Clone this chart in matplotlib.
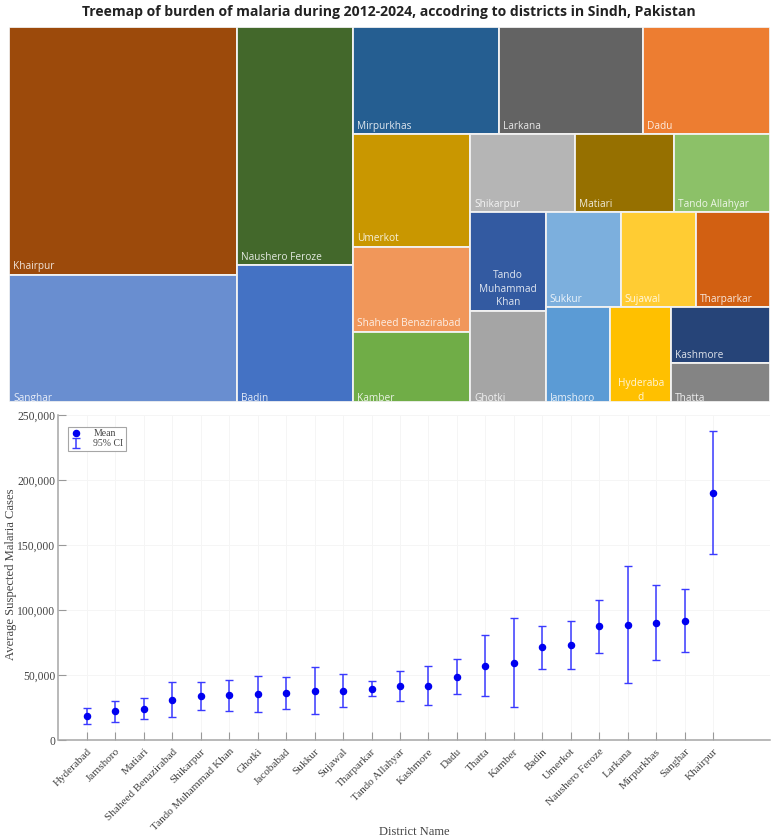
import matplotlib
matplotlib.use('Agg')
import matplotlib.pyplot as plt
from matplotlib.patches import Rectangle
from matplotlib.ticker import FuncFormatter
from matplotlib.transforms import ScaledTranslation

W, H = 778.0, 838.0

# treemap burden, one value per district
tm_names = ['Khairpur', 'Sanghar', 'Naushero Feroze', 'Badin', 'Mirpurkhas', 'Larkana', 'Dadu',
            'Umerkot', 'Shaheed Benazirabad', 'Kamber', 'Shikarpur', 'Matiari', 'Tando Allahyar',
            'Tando Muhammad Khan', 'Ghotki', 'Sukkur', 'Sujawal', 'Tharparkar', 'Jamshoro',
            'Hyderabad', 'Kashmore', 'Thatta']
tm_values = [56534, 28893, 27666, 15892, 15695, 15480, 13706,
             13219, 9988, 8284, 8151, 7761, 7488,
             7437, 6870, 7125, 7173, 6983, 6128,
             5795, 5516, 3842]
tm_colors = ['#9C4A0B', '#698ED0', '#43682B', '#4472C4', '#255E91', '#636363', '#ED7D31',
             '#C99700', '#F1975A', '#70AD47', '#B5B5B5', '#967000', '#8CC168',
             '#335AA1', '#A5A5A5', '#7CAFDD', '#FFCC33', '#D26012', '#5B9BD5',
             '#FFC000', '#264478', '#848484']
tm_wrapped = {'Tando Muhammad Khan': 'Tando\nMuhammad\nKhan', 'Hyderabad': 'Hyderaba\nd'}

# how the boxes nest: 'h' splits side by side, 'v' stacks
tm_tree = ('h', [
    ('v', ['Khairpur', 'Sanghar']),
    ('v', ['Naushero Feroze', 'Badin']),
    ('v', [
        ('h', ['Mirpurkhas', 'Larkana', 'Dadu']),
        ('h', [
            ('v', ['Umerkot', 'Shaheed Benazirabad', 'Kamber']),
            ('v', [
                ('h', ['Shikarpur', 'Matiari', 'Tando Allahyar']),
                ('h', [
                    ('v', ['Tando Muhammad Khan', 'Ghotki']),
                    ('v', [
                        ('h', ['Sukkur', 'Sujawal', 'Tharparkar']),
                        ('h', ['Jamshoro', 'Hyderabad', ('v', ['Kashmore', 'Thatta'])]),
                    ]),
                ]),
            ]),
        ]),
    ]),
])

# error bar panel
districts = ['Hyderabad', 'Jamshoro', 'Matiari', 'Shaheed Benazirabad', 'Shikarpur',
             'Tando Muhammad Khan', 'Ghotki', 'Jacobabad', 'Sukkur', 'Sujawal', 'Tharparkar',
             'Tando Allahyar', 'Kashmore', 'Dadu', 'Thatta', 'Kamber', 'Badin', 'Umerkot',
             'Naushero Feroze', 'Larkana', 'Mirpurkhas', 'Sanghar', 'Khairpur']
means = [18200, 22050, 23850, 30770, 33850, 34360, 35400, 36150, 37950, 37950, 39200,
         41300, 41800, 48700, 57200, 59200, 71300, 73100, 87400, 88450, 90250, 91800, 190000]
ci_low = [12050, 14100, 16400, 17400, 23300, 22560, 21300, 23850, 20000, 25400, 33600,
          30000, 26700, 35100, 33850, 25100, 54900, 54350, 67200, 43600, 61800, 67950, 143000]
ci_high = [24600, 30250, 32050, 44600, 44600, 46150, 49500, 48700, 56150, 51000, 45100,
           53100, 56900, 62300, 80800, 93600, 87950, 91800, 108000, 133800, 119200, 116100, 237700]
y_ticks = [0, 50000, 100000, 150000, 200000, 250000]


def total(node):
    if isinstance(node, str):
        return tm_values[tm_names.index(node)]
    return sum(total(c) for c in node[1])


def layout(node, x, y, w, h, out):
    # y runs downwards here, same as the treemap axes
    if isinstance(node, str):
        out[node] = (x, y, w, h)
        return
    whole = float(total(node))
    for child in node[1]:
        share = total(child) / whole
        if node[0] == 'h':
            layout(child, x, y, w * share, h, out)
            x += w * share
        else:
            layout(child, x, y, w, h * share, out)
            y += h * share


def axes_px(left, top, right, bottom):
    return [left / W, 1 - bottom / H, (right - left) / W, (bottom - top) / H]


fig = plt.figure(figsize=(W / 100, H / 100), dpi=100, facecolor='white')

# treemap
tm_left, tm_top, tm_right, tm_bottom = 9.0, 26.5, 770.0, 402.0
ax_tm = fig.add_axes(axes_px(tm_left, tm_top, tm_right, tm_bottom))
ax_tm.set_xlim(0, 1)
ax_tm.set_ylim(1, 0)
ax_tm.axis('off')
boxes = {}
layout(tm_tree, 0, 0, 1, 1, boxes)
px_x = 1.0 / (tm_right - tm_left)
px_y = 1.0 / (tm_bottom - tm_top)
for name, color in zip(tm_names, tm_colors):
    x, y, w, h = boxes[name]
    ax_tm.add_patch(Rectangle((x, y), w, h, facecolor=color, edgecolor='#F2F2F2', linewidth=1.3))
    at_bottom = y + h > 0.999
    label = tm_wrapped.get(name, name)
    if '\n' in label:
        ax_tm.text(x + w / 2, y + h - (-0.5 if at_bottom else 3) * px_y, label, color='white', alpha=0.85,
                   fontsize=7.3, family='Open Sans', ha='center', va='bottom', linespacing=1.28, clip_on=True)
    else:
        pad = 4 if at_bottom else 8
        ax_tm.text(x + 4 * px_x, y + h - pad * px_y, label, color='white', alpha=0.85,
                   fontsize=7.3, family='Open Sans', ha='left', va='center', clip_on=True)

fig.text(389 / W, 1 - 12 / H, 'Treemap of burden of malaria during 2012-2024, accodring to districts in Sindh, Pakistan',
         ha='center', va='center', fontsize=10.05, fontweight='bold', family='Open Sans', color='#222222')

# mean and CI panel
ax = fig.add_axes(axes_px(58.5, 415.3, 770.0, 740.0))
xs = list(range(len(districts)))
err_low = [m - l for m, l in zip(means, ci_low)]
err_high = [h - m for m, h in zip(means, ci_high)]
ax.errorbar(xs, means, yerr=[err_low, err_high], fmt='none', ecolor='#3A3AFF', elinewidth=1.1,
            capsize=2.6, capthick=1.0, label='95% CI', zorder=3)
ax.plot(xs, means, 'o', color='#0000F0', markersize=4.4, linestyle='none', label='Mean', zorder=4)

ax.set_xlim(-1, 24)
ax.set_ylim(0, 250000)
ax.set_xticks(xs)
ax.set_xticklabels(districts, rotation=45, ha='right', va='top', rotation_mode='anchor',
                   fontsize=8.1, family='Liberation Serif', color='#444444')
# nudge the slanted labels right so they end just past their ticks
nudge = ScaledTranslation(3 / 100, 0, fig.dpi_scale_trans)
for t in ax.get_xticklabels():
    t.set_transform(t.get_transform() + nudge)
ax.set_yticks(y_ticks)
ax.yaxis.set_major_formatter(FuncFormatter(lambda v, p: format(int(v), ',')))
for t in ax.get_yticklabels():
    t.set_family('Liberation Serif')
    t.set_fontsize(8.4)
    t.set_color('#444444')
ax.tick_params(axis='both', direction='in', length=5.5, width=0.8, color='#999999')
ax.tick_params(axis='x', pad=5)
ax.tick_params(axis='y', pad=2.5)
ax.grid(True, color='#F5F5F5', linewidth=0.7)
ax.set_axisbelow(True)
ax.spines['top'].set_visible(False)
ax.spines['right'].set_visible(False)
ax.spines['left'].set_color('#A6A6A6')
ax.spines['bottom'].set_color('#A6A6A6')
ax.spines['left'].set_linewidth(1.1)
ax.spines['bottom'].set_linewidth(1.1)

fig.text(11 / W, 1 - 574 / H, 'Average Suspected Malaria Cases', rotation=90, ha='center', va='center',
         fontsize=9.1, family='Liberation Serif', color='#444444')
fig.text(414 / W, 1 - 832 / H, 'District Name', ha='center', va='center',
         fontsize=9, family='Liberation Serif', color='#444444')

handles, labels = ax.get_legend_handles_labels()
order = [labels.index('Mean'), labels.index('95% CI')]
leg = ax.legend([handles[i] for i in order], [labels[i] for i in order], loc='upper left',
                bbox_to_anchor=((68 - 58.5) / (770 - 58.5), 1 - (427 - 415.3) / (740 - 415.3)),
                prop={'family': 'Liberation Serif', 'size': 7}, fancybox=False, framealpha=1,
                edgecolor='#A6A6A6', borderaxespad=0, handlelength=1.2, handletextpad=1.15,
                labelspacing=0.1, borderpad=0.25)
leg.get_frame().set_linewidth(0.8)
for t in leg.get_texts():
    t.set_color('#444444')

fig.savefig('out.png', dpi=100, facecolor='white')
